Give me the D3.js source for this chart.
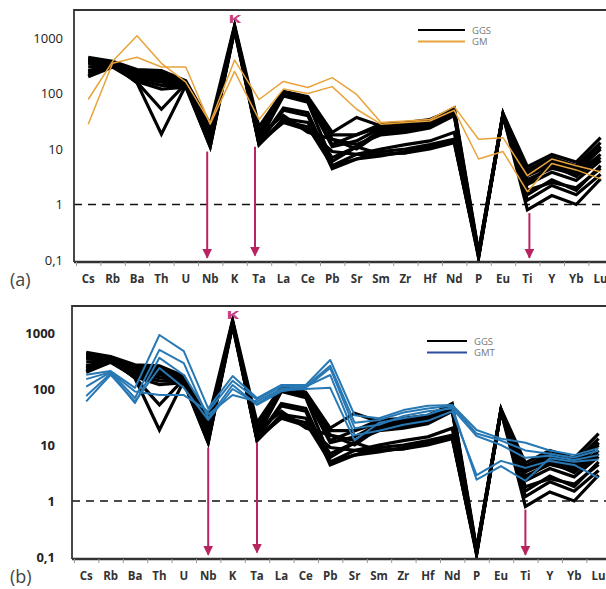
<!DOCTYPE html>
<html>
<head>
<meta charset="utf-8">
<script src="https://cdn.jsdelivr.net/npm/d3@7"></script>
<style>
  body { margin: 0; background: #fff; }
  svg { font-family: "Open Sans", "DejaVu Sans", sans-serif; }
</style>
</head>
<body>
<div id="board"></div>
<script>

// spider diagram, normalised values, log scale
var elements = ['Cs','Rb','Ba','Th','U','Nb','K','Ta','La','Ce','Pb','Sr','Sm','Zr','Hf','Nd','P','Eu','Ti','Y','Yb','Lu'];

var yTicks = [0.1, 1, 10, 100, 1000];
var yTickLabels = ['0,1', '1', '10', '100', '1000'];

// GGS samples (black, same in both panels)
var ggs = [
  [450, 380, 270, 260, 170, 28, 1700, 25, 110, 88, 20, 37, 26, 28, 32, 55, 0.14, 44, 4.8, 8, 5.8, 16],
  [420, 360, 250, 240, 160, 22, 1600, 20, 105, 80, 18, 18, 28, 30, 34, 52, 0.13, 42, 4.2, 7, 5, 13],
  [380, 350, 230, 220, 150, 18, 1500, 17, 100, 78, 12, 18, 25, 27, 30, 48, 0.12, 40, 4.0, 6.6, 4.7, 11],
  [340, 340, 220, 200, 155, 15, 1550, 15, 95, 75, 11, 14, 24, 26, 28, 46, 0.11, 41, 3.3, 5.2, 3.8, 10],
  [300, 330, 200, 180, 145, 13, 1450, 14, 90, 70, 6, 11, 22, 24, 26, 44, 0.12, 43, 2.8, 4.5, 3.5, 8],
  [260, 320, 190, 160, 140, 12, 1400, 13, 55, 45, 5, 8, 10, 12, 14, 20, 0.13, 40, 2.3, 3.8, 2.7, 6.2],
  [230, 310, 175, 140, 135, 12, 1500, 13, 50, 40, 4.4, 6.6, 9, 10, 12, 15, 0.14, 42, 1.8, 2.5, 2.0, 4.5],
  [200, 300, 165, 120, 130, 11, 1350, 12, 35, 30, 7, 11, 8, 8.5, 11, 14, 0.12, 40, 0.8, 1.45, 1.0, 2.9],
  [210, 320, 160, 52, 150, 12, 1500, 12, 32, 25, 5, 6.6, 7.5, 9, 11, 14, 0.11, 41, 1.5, 2.8, 1.8, 5],
  [250, 340, 155, 18.5, 140, 11, 1550, 13, 30, 22, 9, 8, 8, 8.5, 10, 13, 0.12, 39, 1.2, 2.2, 1.5, 3.5],
  [400, 370, 240, 230, 160, 20, 1600, 18, 40, 20, 15, 10, 20, 22, 26, 42, 0.13, 43, 3.5, 6, 4.2, 11],
  [360, 350, 260, 210, 150, 16, 1500, 16, 100, 85, 15, 12, 18, 20, 24, 40, 0.12, 41, 2.5, 5, 3.2, 7]
];

// GM samples (orange, panel a)
var gm = [
  [78, 380, 1100, 350, 160, 30, 400, 78, 165, 128, 193, 96, 30, 32, 34, 58, 15, 16, 3.3, 6.6, 5, 3.9],
  [28, 350, 450, 300, 300, 28, 250, 34, 120, 100, 133, 52, 28, 30, 32, 50, 6.6, 9, 1.7, 5.5, 4.2, 2.9]
];

// GMT samples (blue, panel b)
var gmt = [
  [180, 210, 105, 920, 475, 45, 170, 69, 118, 118, 330, 34, 30, 42, 50, 52, 18.5, 13, 11, 8, 6.6, 8.8],
  [110, 200, 69, 500, 290, 30, 118, 52, 91, 105, 237, 20, 23, 33, 40, 45, 14.5, 10, 5.9, 6.4, 5.4, 6.6],
  [75, 190, 56, 360, 178, 35, 78, 60, 100, 110, 178, 15, 18, 23, 27, 40, 2.9, 5.2, 3.9, 5.2, 4.4, 2.6],
  [60, 180, 60, 237, 105, 28, 100, 55, 95, 100, 105, 12, 25, 30, 35, 48, 2.4, 4.2, 2.3, 5.8, 5, 5.5],
  [150, 200, 90, 78, 78, 40, 140, 65, 110, 112, 260, 25, 28, 38, 45, 50, 16, 12, 8, 7, 6, 8]
];

// negative anomalies marked with arrows (start value -> end value)
var arrowCats = ['Nb', 'Ta', 'Ti'];
var arrowFrom = [9, 11, 0.7];
var arrowTo = [0.11, 0.12, 0.11];

var W = 606, H = 589;
var crimson = '#b8245f';

var svg = d3.select('#board').append('svg')
  .attr('width', W).attr('height', H);

var defs = svg.append('defs');
defs.append('marker')
  .attr('id', 'arrowhead')
  .attr('viewBox', '0 0 10 10')
  .attr('refX', 9).attr('refY', 5)
  .attr('markerWidth', 5).attr('markerHeight', 5)
  .attr('orient', 'auto')
  .append('path')
  .attr('d', 'M0,0 L10,5 L0,10 z')
  .attr('fill', crimson);

function drawPanel(p) {
  var x = d3.scaleBand().domain(elements).range([p.left + 2, p.left + 2 + 22 * 24.4]);
  var xi = d3.scaleLinear().domain([0, 22]).range(x.range());
  var y = d3.scaleLog().domain([0.1, 1000]).range([p.y01, p.y1000]);
  var cx = function(c) { return x(c) + x.bandwidth() / 2; };

  var g = svg.append('g');

  var clipId = 'clip' + p.name;
  defs.append('clipPath').attr('id', clipId)
    .append('rect')
    .attr('x', p.left).attr('y', p.top)
    .attr('width', W - p.left).attr('height', p.bottom - p.top);

  var plot = g.append('g').attr('clip-path', 'url(#' + clipId + ')');

  // reference line at 1
  plot.append('line')
    .attr('x1', p.left).attr('x2', W)
    .attr('y1', y(1)).attr('y2', y(1))
    .attr('stroke', '#111').attr('stroke-width', 1.6)
    .attr('stroke-dasharray', '8,6');

  var line = d3.line()
    .x(function(d, i) { return cx(elements[i]); })
    .y(function(d) { return y(d); });

  plot.selectAll('path.ggs').data(ggs).enter().append('path')
    .attr('class', 'ggs')
    .attr('d', line)
    .attr('fill', 'none')
    .attr('stroke', '#000')
    .attr('stroke-width', 3.2)
    .attr('stroke-linejoin', 'miter')
    .attr('stroke-miterlimit', 12);

  plot.selectAll('path.other').data(p.other).enter().append('path')
    .attr('class', 'other')
    .attr('d', line)
    .attr('fill', 'none')
    .attr('stroke', p.color)
    .attr('stroke-width', p.otherWidth)
    .attr('stroke-linejoin', 'round');

  // arrows
  arrowCats.forEach(function(c, i) {
    plot.append('line')
      .attr('x1', cx(c) + p.arrowDx[i]).attr('x2', cx(c) + p.arrowDx[i])
      .attr('y1', y(arrowFrom[i])).attr('y2', y(arrowTo[i]))
      .attr('stroke', crimson).attr('stroke-width', 2)
      .attr('marker-end', 'url(#arrowhead)');
  });

  // K label over the potassium peak
  g.append('text')
    .attr('transform', 'translate(' + cx('K') + ',' + (p.top + 13) + ') scale(1.5,0.75)')
    .attr('text-anchor', 'middle')
    .attr('fill', '#c8407a')
    .attr('font-size', 13)
    .attr('font-weight', 'bold')
    .text('K');

  // frame: left and top border
  g.append('path')
    .attr('d', 'M' + p.left + ',' + p.bottom + 'V' + p.top + 'H' + W)
    .attr('fill', 'none').attr('stroke', '#333').attr('stroke-width', 1.8);

  // bottom axis, ticks between elements
  var xAxis = g.append('g')
    .attr('transform', 'translate(0,' + p.bottom + ')')
    .call(d3.axisBottom(xi).tickValues(d3.range(0, 23)).tickFormat('').tickSizeInner(4).tickSizeOuter(0));
  xAxis.select('.domain').attr('stroke', '#333').attr('stroke-width', 2.4)
    .attr('d', 'M' + p.left + ',0H' + W);
  xAxis.selectAll('.tick line').attr('stroke', '#999').attr('stroke-width', 1);

  var labels = g.append('g')
    .attr('transform', 'translate(0,' + p.bottom + ')')
    .call(d3.axisBottom(x).tickSize(0).tickPadding(13));
  labels.select('.domain').remove();
  labels.selectAll('text')
    .attr('font-size', 11.5).attr('font-weight', 'bold')
    .attr('fill', '#333').attr('font-family', '"Open Sans", sans-serif');

  // y labels
  var yAxis = g.append('g')
    .attr('transform', 'translate(' + p.left + ',0)')
    .call(d3.axisLeft(y).tickValues(yTicks)
      .tickFormat(function(d, i) { return yTickLabels[i]; })
      .tickSize(0).tickPadding(p.yPad));
  yAxis.select('.domain').remove();
  yAxis.selectAll('text')
    .attr('font-size', 13).attr('font-weight', p.yWeight)
    .attr('fill', '#222').attr('font-family', '"Open Sans", sans-serif');

  // panel letter
  g.append('text')
    .attr('x', 10).attr('y', p.bottom + 24)
    .attr('font-size', 18).attr('fill', '#444')
    .text(p.letter);

  // legend
  var lg = g.append('g').attr('transform', 'translate(' + p.legX + ',' + p.legY + ')');
  var legItems = [{name: 'GGS', color: '#000'}, {name: p.otherName, color: p.legColor}];
  legItems.forEach(function(it, i) {
    lg.append('line')
      .attr('x1', 0).attr('x2', p.legLen)
      .attr('y1', i * 11.5).attr('y2', i * 11.5)
      .attr('stroke', it.color).attr('stroke-width', 2);
    lg.append('text')
      .attr('x', p.legLen + 7).attr('y', i * 11.5 + 3.5)
      .attr('font-size', 9.5).attr('fill', '#777')
      .text(it.name);
  });
}

drawPanel({
  name: 'a', letter: '(a)', left: 74, top: 10, bottom: 262, y01: 260, y1000: 38,
  other: gm, color: '#e8a33a', otherWidth: 1.5, otherName: 'GM', legColor: '#e8a33a',
  arrowDx: [-3, -4, 2], yPad: 11, yWeight: 'normal',
  legX: 418, legY: 30, legLen: 47
});

drawPanel({
  name: 'b', letter: '(b)', left: 72, top: 306, bottom: 559, y01: 557, y1000: 333,
  other: gmt, color: '#2878b4', otherWidth: 2, otherName: 'GMT', legColor: '#2d4ea0',
  arrowDx: [0, 0, 0], yPad: 17, yWeight: 'bold',
  legX: 427, legY: 341, legLen: 40
});

</script>
</body>
</html>
